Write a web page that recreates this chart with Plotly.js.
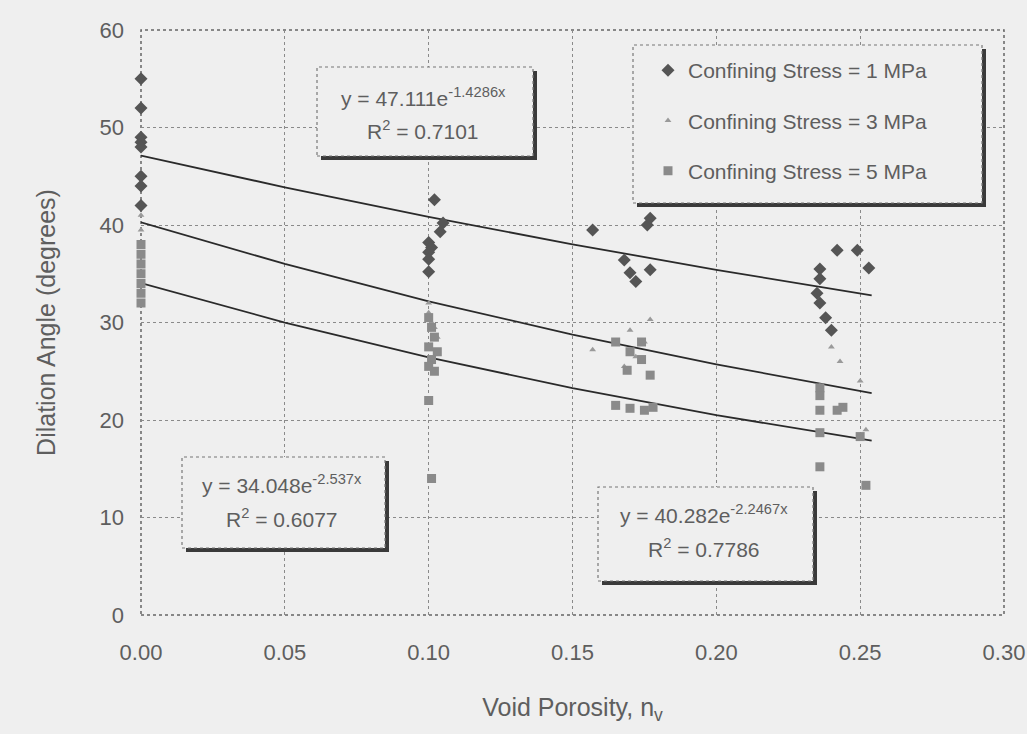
<!DOCTYPE html>
<html>
<head>
<meta charset="utf-8">
<script src="https://cdn.plot.ly/plotly-3.0.1.min.js"></script>
<style>html,body{margin:0;padding:0;background:#efefef;}#chart{width:1027px;height:734px;}</style>
</head>
<body>
<div id="chart"></div>
<script>
// Confining Stress = 1 MPa
const x1 = [0,0,0,0,0,0,0,0, 0.102,0.105,0.104,0.100,0.101,0.100,0.100,0.100, 0.157,0.168,0.170,0.172,0.176,0.177,0.177, 0.236,0.236,0.235,0.236,0.238,0.240,0.242,0.249,0.253];
const y1 = [55,52,49,48.5,48,45,44,42, 42.6,40.2,39.3,38.2,37.7,37.2,36.5,35.2, 39.5,36.4,35.1,34.2,40.0,40.7,35.4, 35.5,34.5,33,32,30.5,29.2,37.4,37.4,35.6];
// Confining Stress = 3 MPa
const x3 = [0,0,0,0,0,0, 0.100,0.100,0.101,0.102,0.103, 0.157,0.170,0.175,0.177,0.172,0.168, 0.240,0.243,0.236,0.250,0.252,0.236];
const y3 = [41,39.5,38,37,36,35, 32,31,30,29.5,28.5, 27.2,29.2,28,30.3,26.5,25.5, 27.5,26,23.5,24.0,19.0,21];
// Confining Stress = 5 MPa
const x5 = [0,0,0,0,0,0,0, 0.100,0.101,0.102,0.100,0.103,0.101,0.100,0.102,0.100,0.101, 0.165,0.170,0.174,0.174,0.169,0.177,0.165,0.170,0.175,0.178, 0.236,0.236,0.236,0.242,0.244,0.236,0.250,0.236,0.252];
const y5 = [38,37,36,35,34,33,32, 30.5,29.5,28.5,27.5,27,26.2,25.5,25,22,14, 28,27,28,26.2,25.1,24.6,21.5,21.2,21,21.3, 23.3,22.5,21,21,21.3,18.7,18.3,15.2,13.3];

// Exponential trendlines y = a * e^(b x), as printed on the chart
const seriesNames = ['Confining Stress = 1 MPa','Confining Stress = 3 MPa','Confining Stress = 5 MPa'];
const trendA = [47.111, 40.282, 34.048];
const trendB = [-1.4286, -2.2467, -2.537];
const trendR2 = ['0.7101','0.7786','0.6077'];
const trendX = [0, 0.05, 0.10, 0.15, 0.20, 0.254];

const grey = '#5e5e5e';
const font = 'Liberation Sans, Arial, sans-serif';

const traces = [];
for (let i = 0; i < 3; i++) {
  traces.push({
    x: trendX, y: trendX.map(v => trendA[i] * Math.exp(trendB[i] * v)),
    mode: 'lines', line: {color: '#2a2a2a', width: 1.8}, showlegend: false, hoverinfo: 'skip'
  });
}
traces.push({x: x1, y: y1, name: seriesNames[0], mode: 'markers', legendgroup: 'a', cliponaxis: false,
  marker: {symbol: 'diamond', size: 10, color: '#555555'}});
traces.push({x: x3, y: y3, name: seriesNames[1], mode: 'markers', legendgroup: 'b', cliponaxis: false,
  marker: {symbol: 'triangle-up', size: 6, color: '#9a9a9a'}});
traces.push({x: x5, y: y5, name: seriesNames[2], mode: 'markers', legendgroup: 'c', cliponaxis: false,
  marker: {symbol: 'square', size: 9, color: '#8a8a8a'}});

// pixel -> paper helpers for layout placement
const L = 141, R = 1004, T = 30, B = 615;
const px = v => (v - L) / (R - L);
const py = v => (B - v) / (B - T);

function box(x0, y0, x1b, y1b) {
  return [
    {type: 'rect', xref: 'paper', yref: 'paper', x0: px(x0 + 4), x1: px(x1b + 4), y0: py(y1b + 4), y1: py(y0 + 4),
     fillcolor: '#3a3a3a', line: {width: 0}},
    {type: 'rect', xref: 'paper', yref: 'paper', x0: px(x0), x1: px(x1b), y0: py(y1b), y1: py(y0),
     fillcolor: '#efefef', line: {color: '#777', width: 1.2, dash: 'dot'}}
  ];
}

const shapes = [
  {type: 'rect', xref: 'paper', yref: 'paper', x0: 0, x1: 1, y0: 0, y1: 1, layer: 'below',
   line: {color: '#666', width: 1.5, dash: 'dot'}},
  ...box(317, 67, 533, 156),
  ...box(633, 45, 982, 203),
  ...box(182, 457, 385, 548),
  ...box(598, 487, 813, 581)
];

function ann(text, xpx, ypx, size) {
  return {text: text, xref: 'paper', yref: 'paper', x: px(xpx), y: py(ypx), xanchor: 'center', yanchor: 'middle',
    showarrow: false, font: {family: font, size: size, color: grey}};
}
const annotations = [
  ann('y = ' + trendA[0].toFixed(3) + 'e<sup>' + trendB[0] + 'x</sup>', 423, 97, 21),
  ann('R<sup>2</sup> = ' + trendR2[0], 423, 130, 21),
  ann('y = ' + trendA[2].toFixed(3) + 'e<sup>' + trendB[2] + 'x</sup>', 282, 484, 21),
  ann('R<sup>2</sup> = ' + trendR2[2], 282, 518, 21),
  ann('y = ' + trendA[1].toFixed(3) + 'e<sup>' + trendB[1] + 'x</sup>', 704, 514, 21),
  ann('R<sup>2</sup> = ' + trendR2[1], 704, 548, 21)
];

const layout = {
  width: 1027, height: 734,
  margin: {l: L, r: 1027 - R, t: T, b: 734 - B},
  paper_bgcolor: '#efefef', plot_bgcolor: '#efefef',
  font: {family: font, color: grey},
  xaxis: {range: [0, 0.30], dtick: 0.05, tick0: 0, tickformat: '.2f', showgrid: true, gridcolor: '#8a8a8a',
    griddash: 'dot', gridwidth: 1, zeroline: false, showline: false, ticks: '', ticklabelstandoff: 22,
    tickfont: {size: 22, color: grey},
    title: {text: 'Void Porosity, n<sub>v</sub>', font: {size: 25, color: grey}, standoff: 34}},
  yaxis: {range: [0, 60], dtick: 10, showgrid: true, gridcolor: '#8a8a8a', griddash: 'dot', gridwidth: 1,
    zeroline: false, showline: false, ticks: '', ticklabelstandoff: 16,
    tickfont: {size: 22, color: grey},
    title: {text: 'Dilation Angle (degrees)', font: {size: 25, color: grey}, standoff: 36}},
  showlegend: true,
  legend: {x: px(648), y: py(50), xanchor: 'left', yanchor: 'top', bgcolor: 'rgba(0,0,0,0)', borderwidth: 0,
    traceorder: 'grouped', tracegroupgap: 20, font: {size: 21, color: grey}},
  shapes: shapes,
  annotations: annotations
};

Plotly.newPlot('chart', traces, layout, {displayModeBar: false, staticPlot: true});
</script>
</body>
</html>
